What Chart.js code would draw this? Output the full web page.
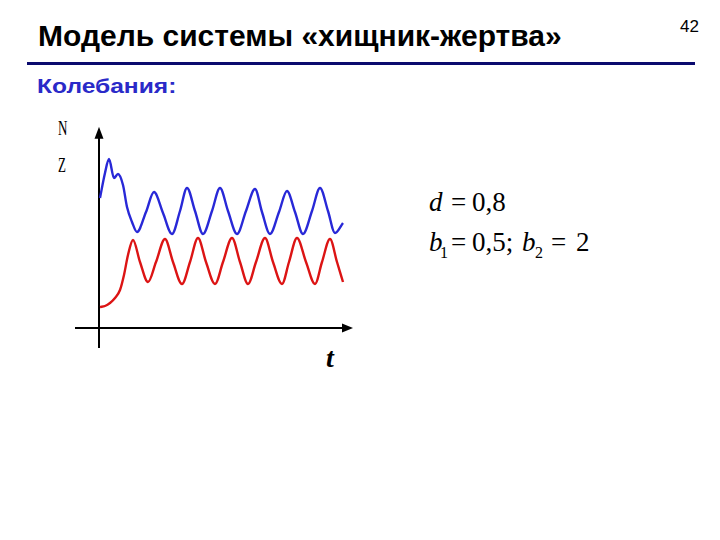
<!DOCTYPE html>
<html>
<head>
<meta charset="utf-8">
<script src="https://cdn.jsdelivr.net/npm/chart.js@4"></script>
<style>
  body { margin: 0; background: #fff; }
  #page { position: relative; width: 720px; height: 540px; overflow: hidden; background: #fff; }
  .abs { position: absolute; white-space: nowrap; }
  #title { left: 38px; top: 19px; font: bold 30px "Liberation Sans", Arial, sans-serif; color: #000; }
  #num { left: 680px; top: 17px; font: 17px "Liberation Sans Narrow", "Liberation Sans", sans-serif; color: #000; }
  #rule { left: 27px; top: 62px; width: 668px; height: 3px; background: #0a0a6e; }
  #sub { left: 37px; top: 74px; font: bold 21px "Liberation Sans", Arial, sans-serif; color: #2a2ac8;
         transform: scaleX(1.17); transform-origin: left top; }
  .ax { font: 20px/20px "Liberation Serif", serif; color: #000; transform: scaleX(0.65); transform-origin: left top; }
  .fm { font: 27px/27px "Liberation Serif", "Times New Roman", serif; color: #000; }
  .fs { font: 16px/16px "Liberation Serif", "Times New Roman", serif; color: #000; }
  #chartbox { position: absolute; left: 40px; top: 110px; width: 330px; height: 250px; }
</style>
</head>
<body>
<div id="page">
  <div class="abs" id="title">Модель системы «хищник-жертва»</div>
  <div class="abs" id="num">42</div>
  <div class="abs" id="rule"></div>
  <div class="abs" id="sub">Колебания:</div>
  <div class="abs ax" style="left:58px; top:118px;">N</div>
  <div class="abs ax" style="left:58px; top:155px;">Z</div>
  <div class="abs" style="left:326px; top:344px; font: bold italic 28px/28px 'Liberation Serif', serif;">t</div>

  <div class="abs fm" style="left:429px; top:189px;"><i>d</i></div>
  <div class="abs fm" style="left:451px; top:189px;">=</div>
  <div class="abs fm" style="left:472px; top:189px;">0,8</div>

  <div class="abs fm" style="left:429px; top:229px;"><i>b</i></div>
  <div class="abs fs" style="left:440px; top:245px;">1</div>
  <div class="abs fm" style="left:451px; top:229px;">=</div>
  <div class="abs fm" style="left:472px; top:229px;">0,5;</div>
  <div class="abs fm" style="left:522px; top:229px;"><i>b</i></div>
  <div class="abs fs" style="left:535px; top:245px;">2</div>
  <div class="abs fm" style="left:551px; top:229px;">=</div>
  <div class="abs fm" style="left:576px; top:229px;">2</div>

  <div id="chartbox"><canvas id="chart" width="330" height="250"></canvas></div>
</div>
<script>
// prey N (blue) and predator Z (red)
const timeN = [0.4, 2.4, 4, 6, 7.6, 9.6, 11.2, 13.2, 15.2, 18.8, 22, 25.6, 29.2, 32.4, 35.2, 38.4,
  41.6, 45.2, 48.4, 51.6, 55.2, 58.8, 62.4, 65.2, 68.4, 72, 75.2, 78.4, 81.6, 85.2, 88.4, 91.6, 94.4, 97.6];
const preyN = [65, 77.5, 84.5, 75, 77, 71.5, 60.5, 53, 48, 58, 68, 57.5, 47, 58.5, 70, 58.5,
  47, 58.5, 70, 58.5, 47, 58.5, 69.5, 58, 47, 58, 68.5, 58, 47, 58.5, 70, 58.5, 47.5, 52.5];

const timeZ = [0.4, 2.4, 4.4, 6.4, 8.4, 10, 11.6, 13.6, 16.4, 19.6, 22.8, 26.4, 29.6, 33.2, 36.4, 39.6,
  42.8, 46.4, 49.6, 53.2, 56.4, 59.6, 62.8, 66.4, 69.6, 73.2, 76, 79.2, 82.8, 86.4, 89.2, 92.4, 95.2, 97.6];
const predatorZ = [10.5, 11, 12.5, 15, 19, 26.5, 36.5, 44, 33, 23, 33, 44.5, 33, 22, 33, 45,
  33, 22, 33, 45, 33, 22, 33, 45, 33, 22, 33, 45, 33, 22, 33, 44.5, 33, 23];

// axis extents (data units): x axis starts a little left of 0, y axis a little below 0
const xAxisFrom = -9.6, xAxisTo = 101.6;
const yAxisFrom = -10, yAxisTo = 100.6;

function pts(xs, ys) {
  return xs.map((x, i) => ({ x: x, y: ys[i] }));
}

// draws the cross-shaped axes with arrowheads
const arrowAxes = {
  id: 'arrowAxes',
  beforeDatasetsDraw(chart) {
    const ctx = chart.ctx;
    const xs = chart.scales.x, ys = chart.scales.y;
    const x0 = xs.getPixelForValue(0), y0 = ys.getPixelForValue(0);
    const xa = xs.getPixelForValue(xAxisFrom), xb = xs.getPixelForValue(xAxisTo);
    const ya = ys.getPixelForValue(yAxisFrom), yb = ys.getPixelForValue(yAxisTo);
    ctx.save();
    ctx.strokeStyle = '#000';
    ctx.fillStyle = '#000';
    ctx.lineWidth = 2;
    ctx.beginPath();
    ctx.moveTo(xa, y0); ctx.lineTo(xb - 8, y0);
    ctx.moveTo(x0, ya); ctx.lineTo(x0, yb + 8);
    ctx.stroke();
    ctx.beginPath();
    ctx.moveTo(xb, y0); ctx.lineTo(xb - 11, y0 - 4.5); ctx.lineTo(xb - 11, y0 + 4.5);
    ctx.closePath(); ctx.fill();
    ctx.beginPath();
    ctx.moveTo(x0, yb); ctx.lineTo(x0 - 4.5, yb + 12); ctx.lineTo(x0 + 4.5, yb + 12);
    ctx.closePath(); ctx.fill();
    ctx.restore();
  }
};

const ctx = document.getElementById('chart').getContext('2d');
new Chart(ctx, {
  type: 'line',
  data: {
    datasets: [
      {
        label: 'N',
        data: pts(timeN, preyN),
        borderColor: 'rgb(40, 40, 215)',
        borderWidth: 2.4,
        pointRadius: 0,
        cubicInterpolationMode: 'monotone',
        fill: false
      },
      {
        label: 'Z',
        data: pts(timeZ, predatorZ),
        borderColor: 'rgb(220, 20, 20)',
        borderWidth: 2.4,
        pointRadius: 0,
        cubicInterpolationMode: 'monotone',
        fill: false
      }
    ]
  },
  options: {
    responsive: false,
    animation: false,
    layout: { padding: 0 },
    plugins: { legend: { display: false }, tooltip: { enabled: false } },
    scales: {
      x: { type: 'linear', min: -23.6, max: 108.4, display: false },
      y: { type: 'linear', min: -16, max: 109, display: false }
    }
  },
  plugins: [arrowAxes]
});
</script>
</body>
</html>
